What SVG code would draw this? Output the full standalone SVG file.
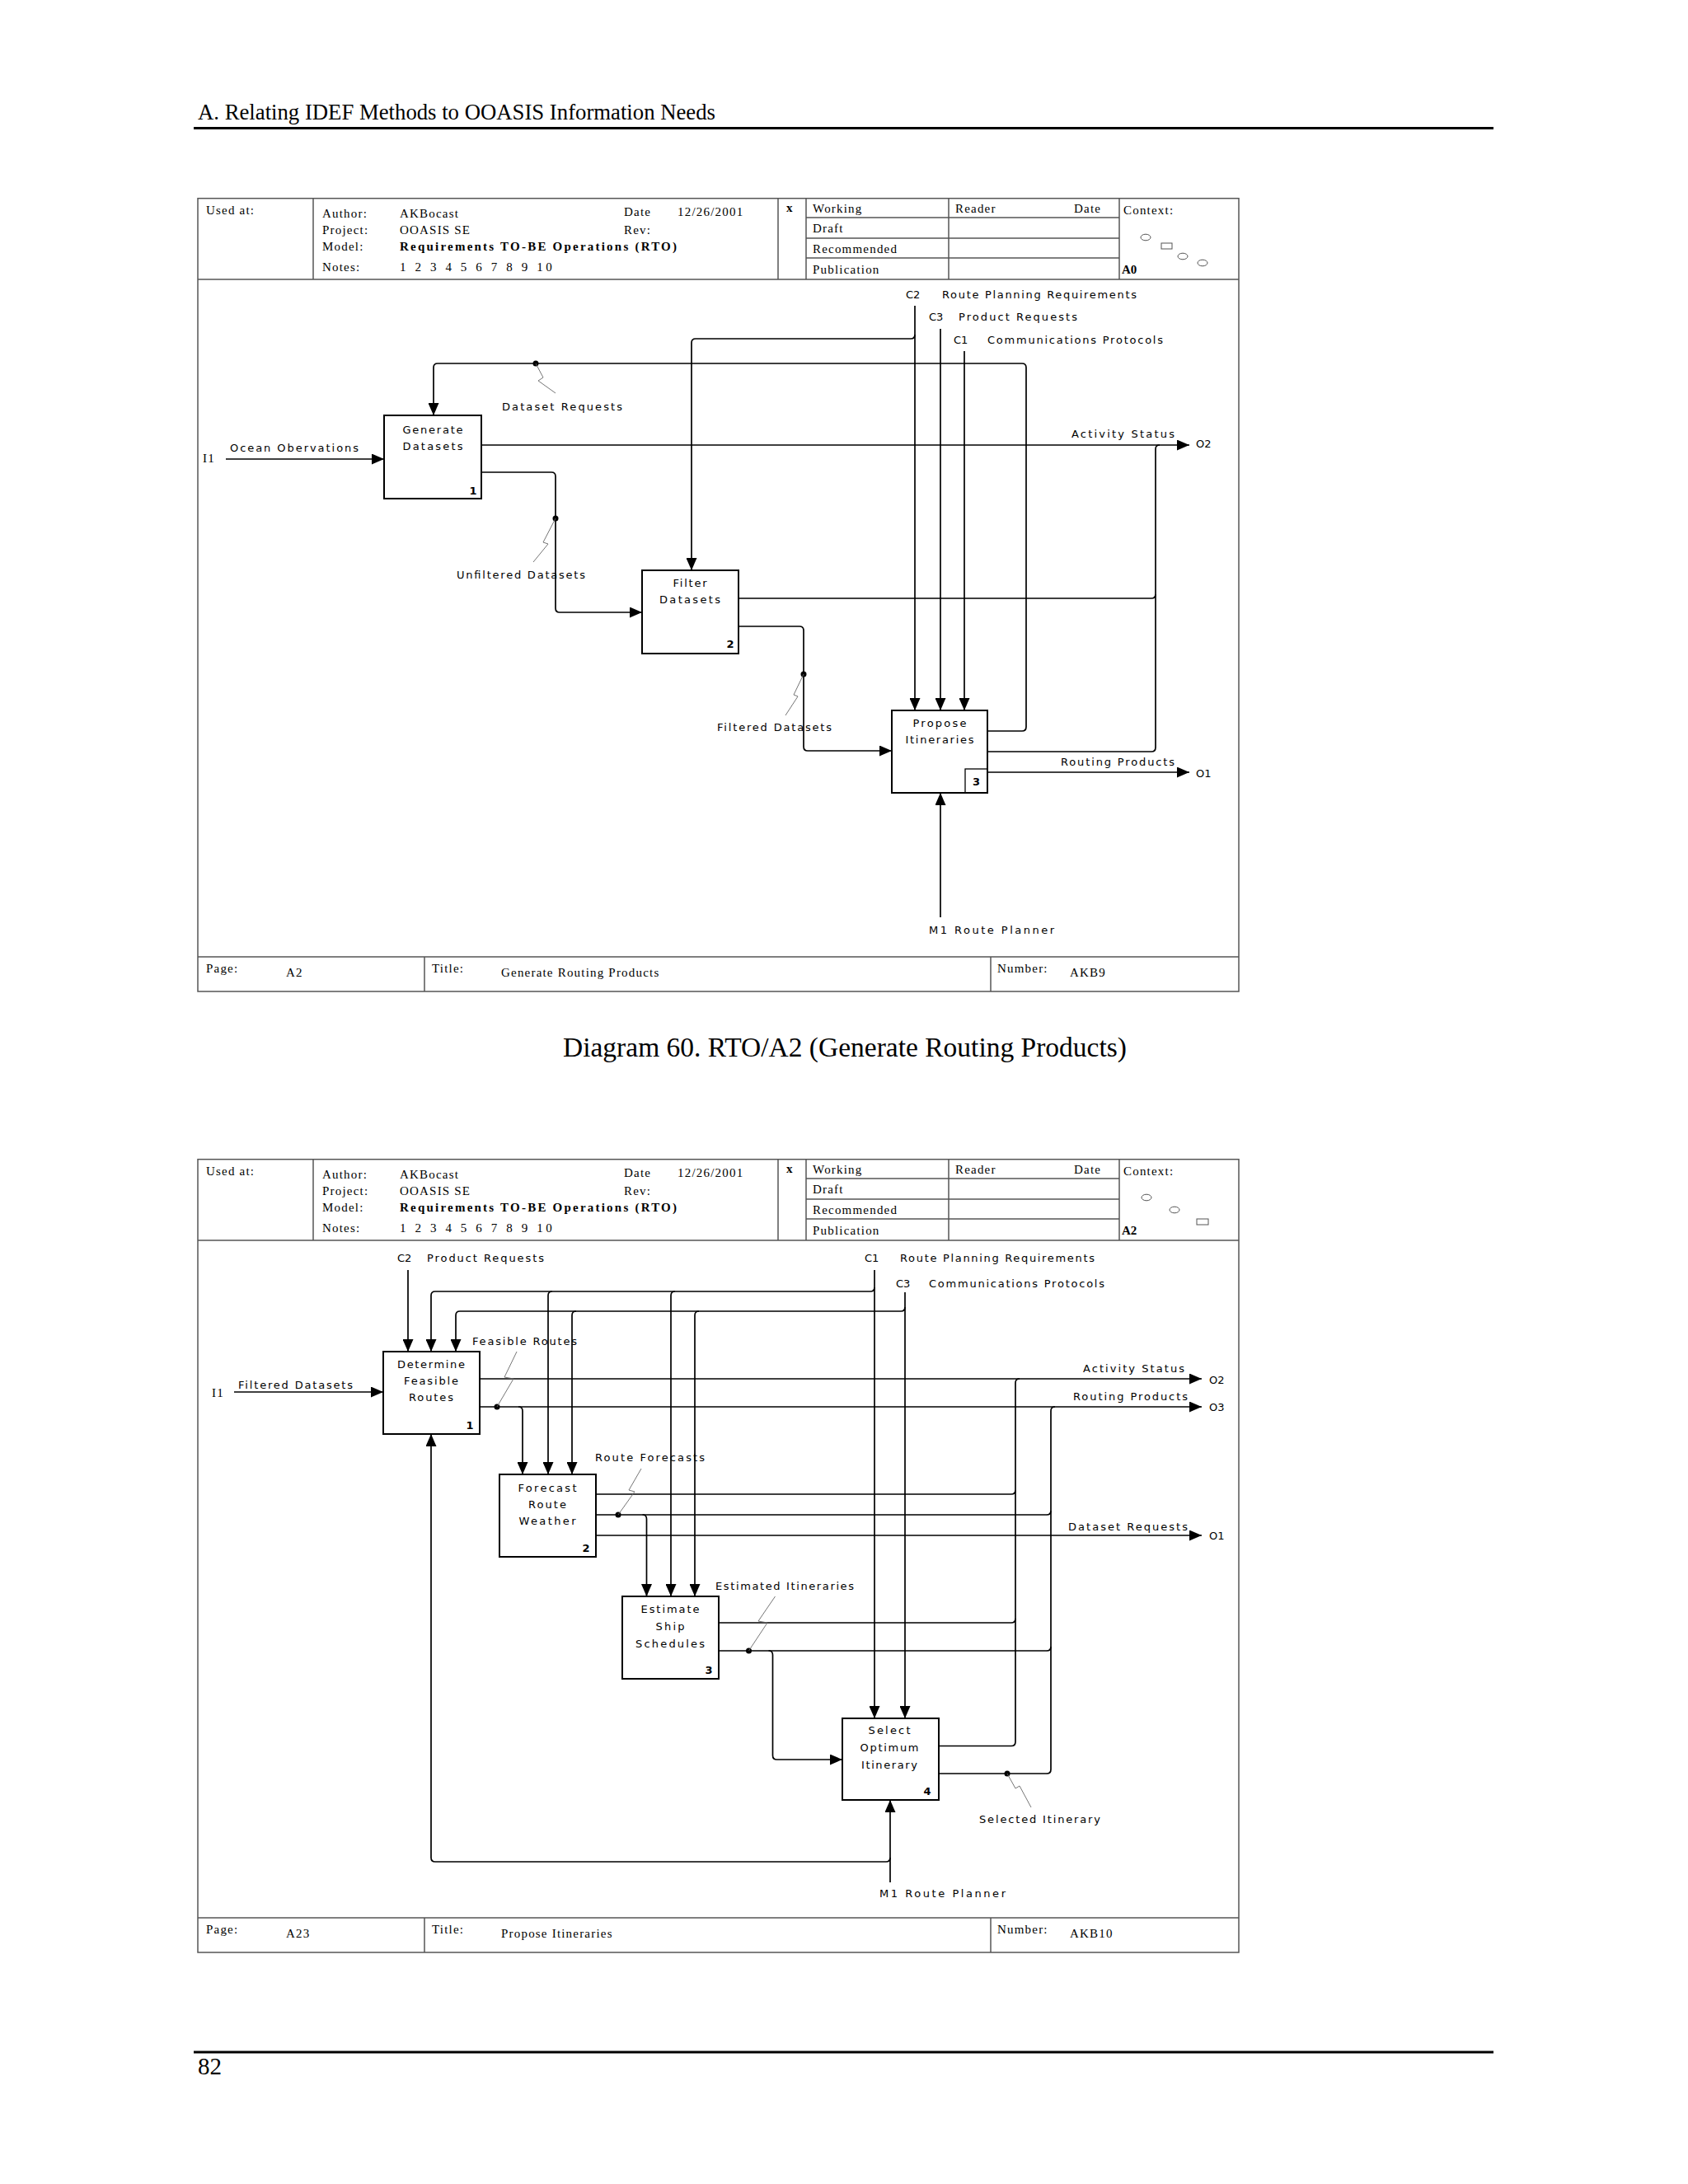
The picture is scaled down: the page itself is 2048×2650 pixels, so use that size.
<svg xmlns="http://www.w3.org/2000/svg" width="2048" height="2650" viewBox="0 0 2048 2650">
<style>
.frame{fill:none;stroke:#555;stroke-width:1.5}
.rule{stroke:#000;stroke-width:3}
.box{fill:#fff;stroke:#000;stroke-width:2}
.ln{fill:none;stroke:#000;stroke-width:1.7}
.sq{fill:none;stroke:#666;stroke-width:0.9}
.dot{fill:#000}
.ser{font-family:"Liberation Serif","Times New Roman",serif;font-size:15px;letter-spacing:1.2px;fill:#000}
.serb{font-family:"Liberation Serif","Times New Roman",serif;font-size:15px;font-weight:bold;fill:#000}
.lbl{font-family:"DejaVu Sans",Verdana,sans-serif;font-size:13px;fill:#000}
.num{font-family:"DejaVu Sans",Verdana,sans-serif;font-size:13px;font-weight:bold;fill:#000}
.page{font-family:"Liberation Serif","Times New Roman",serif;fill:#000}
</style>
<defs>
<marker id="ah" viewBox="0 0 15 13" markerWidth="15" markerHeight="13" refX="15" refY="6.5" markerUnits="userSpaceOnUse" orient="auto">
<path d="M0,0 L15,6.5 L0,13 z" fill="#000"/>
</marker>
</defs>
<rect x="0" y="0" width="2048" height="2650" fill="#fff"/>

<g id="page">
<text class="page" x="240" y="145" font-size="27" textLength="628" lengthAdjust="spacingAndGlyphs">A. Relating IDEF Methods to OOASIS Information Needs</text>
<line class="rule" x1="235" y1="155.5" x2="1812" y2="155.5"/>
<text class="page" x="1025" y="1282" font-size="33.5" text-anchor="middle">Diagram 60. RTO/A2 (Generate Routing Products)</text>
<line class="rule" x1="235" y1="2490" x2="1812" y2="2490"/>
<text class="page" x="240" y="2517" font-size="29">82</text>
</g>

<!-- ================= DIAGRAM 1 ================= -->
<g id="d1-frame">
<rect class="frame" x="240" y="240.7" width="1263" height="962.3"/>
<line class="frame" x1="240" y1="339" x2="1503" y2="339"/>
<line class="frame" x1="380" y1="240.7" x2="380" y2="339"/>
<line class="frame" x1="944" y1="240.7" x2="944" y2="339"/>
<line class="frame" x1="978" y1="240.7" x2="978" y2="339"/>
<line class="frame" x1="1151" y1="240.7" x2="1151" y2="339"/>
<line class="frame" x1="1358" y1="240.7" x2="1358" y2="339"/>
<line class="frame" x1="978" y1="264" x2="1358" y2="264"/>
<line class="frame" x1="978" y1="289" x2="1358" y2="289"/>
<line class="frame" x1="978" y1="313" x2="1358" y2="313"/>
<text class="ser" x="250" y="260">Used at:</text>
<text class="ser" x="391" y="264">Author:</text>
<text class="ser" x="485" y="264">AKBocast</text>
<text class="ser" x="757" y="262">Date</text>
<text class="ser" x="822" y="262">12/26/2001</text>
<text class="ser" x="391" y="284">Project:</text>
<text class="ser" x="485" y="284">OOASIS SE</text>
<text class="ser" x="757" y="284">Rev:</text>
<text class="ser" x="391" y="304">Model:</text>
<text class="serb" x="485" y="304" textLength="336" lengthAdjust="spacing">Requirements TO-BE Operations (RTO)</text>
<text class="ser" x="391" y="329">Notes:</text>
<text class="ser" x="485" y="329" textLength="186" lengthAdjust="spacing">1 2 3 4 5 6 7 8 9 10</text>
<text class="serb" x="954" y="257">x</text>
<text class="ser" x="986" y="258">Working</text>
<text class="ser" x="986" y="282">Draft</text>
<text class="ser" x="986" y="307">Recommended</text>
<text class="ser" x="986" y="332">Publication</text>
<text class="ser" x="1159" y="258">Reader</text>
<text class="ser" x="1303" y="258">Date</text>
<text class="ser" x="1363" y="260">Context:</text>
<ellipse cx="1390" cy="288" rx="6" ry="3.8" fill="none" stroke="#555" stroke-width="1"/>
<rect x="1409" y="295" width="13" height="7" fill="none" stroke="#555" stroke-width="1"/>
<ellipse cx="1435" cy="311" rx="6" ry="3.8" fill="none" stroke="#555" stroke-width="1"/>
<ellipse cx="1459" cy="319" rx="6" ry="3.8" fill="none" stroke="#555" stroke-width="1"/>
<text class="serb" x="1361" y="332">A0</text>
<line class="frame" x1="240" y1="1161" x2="1503" y2="1161"/>
<line class="frame" x1="515" y1="1161" x2="515" y2="1203"/>
<line class="frame" x1="1202" y1="1161" x2="1202" y2="1203"/>
<text class="ser" x="250" y="1180">Page:</text>
<text class="ser" x="347" y="1185">A2</text>
<text class="ser" x="524" y="1180">Title:</text>
<text class="ser" x="608" y="1185">Generate Routing Products</text>
<text class="ser" x="1210" y="1180">Number:</text>
<text class="ser" x="1298" y="1185">AKB9</text>
</g>

<g id="d1-connectors">
<path class="ln" d="M1110,371 V862" marker-end="url(#ah)"/>
<path class="ln" d="M1110,406 Q1110,411 1105,411 H844 Q839,411 839,416 V692" marker-end="url(#ah)"/>
<path class="ln" d="M1141,399 V862" marker-end="url(#ah)"/>
<path class="ln" d="M1170,426 V862" marker-end="url(#ah)"/>
<path class="ln" d="M1198,887 H1240 Q1245,887 1245,882 V446 Q1245,441 1240,441 H531 Q526,441 526,446 V504" marker-end="url(#ah)"/>
<path class="ln" d="M274,557 H466" marker-end="url(#ah)"/>
<path class="ln" d="M584,540 H1443" marker-end="url(#ah)"/>
<path class="ln" d="M896,726 H1397 Q1402,726 1402,721"/>
<path class="ln" d="M1198,912 H1397 Q1402,912 1402,907 V545 Q1402,540 1407,540"/>
<path class="ln" d="M584,573 H669 Q674,573 674,578 V738 Q674,743 679,743 H779" marker-end="url(#ah)"/>
<path class="ln" d="M896,760 H970 Q975,760 975,765 V906 Q975,911 980,911 H1082" marker-end="url(#ah)"/>
<path class="ln" d="M1198,937 H1443" marker-end="url(#ah)"/>
<path class="ln" d="M1141,1113 V962" marker-end="url(#ah)"/>
<circle class="dot" cx="650" cy="441" r="3.5"/>
<circle class="dot" cx="674" cy="629" r="3.5"/>
<circle class="dot" cx="975" cy="818" r="3.5"/>
<polyline class="sq" points="650,441 659,458 653,462 674,477"/>
<polyline class="sq" points="674,629 659,658 665,660 647,682"/>
<polyline class="sq" points="975,818 963,843 968,845 953,868"/>
<text class="lbl" x="1099" y="362">C2</text>
<text class="lbl" x="1143" y="362" textLength="236" lengthAdjust="spacing">Route Planning Requirements</text>
<text class="lbl" x="1127" y="389">C3</text>
<text class="lbl" x="1163" y="389" textLength="144" lengthAdjust="spacing">Product Requests</text>
<text class="lbl" x="1157" y="417">C1</text>
<text class="lbl" x="1198" y="417" textLength="213" lengthAdjust="spacing">Communications Protocols</text>
<text class="lbl" x="609" y="498" textLength="146" lengthAdjust="spacing">Dataset Requests</text>
<text class="ser" x="246" y="561">I1</text>
<text class="lbl" x="279" y="548" textLength="156" lengthAdjust="spacing">Ocean Obervations</text>
<text class="lbl" x="1300" y="531" textLength="125" lengthAdjust="spacing">Activity Status</text>
<text class="lbl" x="1451" y="543">O2</text>
<text class="lbl" x="554" y="702" textLength="156" lengthAdjust="spacing">Unfiltered Datasets</text>
<text class="lbl" x="870" y="887" textLength="139" lengthAdjust="spacing">Filtered Datasets</text>
<text class="lbl" x="1287" y="929" textLength="138" lengthAdjust="spacing">Routing Products</text>
<text class="lbl" x="1451" y="943">O1</text>
<text class="lbl" x="1127" y="1133" textLength="152" lengthAdjust="spacing">M1  Route Planner</text>
</g>

<g id="d1-box1">
<rect class="box" x="466" y="504" width="118" height="101"/>
<text class="lbl" x="525" y="526" text-anchor="middle" textLength="73" lengthAdjust="spacing">Generate</text>
<text class="lbl" x="525" y="546" text-anchor="middle" textLength="73" lengthAdjust="spacing">Datasets</text>
<text class="num" x="574" y="600" text-anchor="middle">1</text>
</g>
<g id="d1-box2">
<rect class="box" x="779" y="692" width="117" height="101"/>
<text class="lbl" x="837" y="712" text-anchor="middle" textLength="41" lengthAdjust="spacing">Filter</text>
<text class="lbl" x="837" y="732" text-anchor="middle" textLength="74" lengthAdjust="spacing">Datasets</text>
<text class="num" x="886" y="786" text-anchor="middle">2</text>
</g>
<g id="d1-box3">
<rect class="box" x="1082" y="862" width="116" height="100"/>
<text class="lbl" x="1140" y="882" text-anchor="middle" textLength="65" lengthAdjust="spacing">Propose</text>
<text class="lbl" x="1140" y="902" text-anchor="middle" textLength="83" lengthAdjust="spacing">Itineraries</text>
<rect x="1171" y="933" width="27" height="29" fill="none" stroke="#000" stroke-width="1.3"/>
<text class="num" x="1184.5" y="953" text-anchor="middle">3</text>
</g>

<!-- ================= DIAGRAM 2 ================= -->
<g id="d2-frame" transform="translate(0,1166)">
<rect class="frame" x="240" y="240.7" width="1263" height="962.3"/>
<line class="frame" x1="240" y1="339" x2="1503" y2="339"/>
<line class="frame" x1="380" y1="240.7" x2="380" y2="339"/>
<line class="frame" x1="944" y1="240.7" x2="944" y2="339"/>
<line class="frame" x1="978" y1="240.7" x2="978" y2="339"/>
<line class="frame" x1="1151" y1="240.7" x2="1151" y2="339"/>
<line class="frame" x1="1358" y1="240.7" x2="1358" y2="339"/>
<line class="frame" x1="978" y1="264" x2="1358" y2="264"/>
<line class="frame" x1="978" y1="289" x2="1358" y2="289"/>
<line class="frame" x1="978" y1="313" x2="1358" y2="313"/>
<text class="ser" x="250" y="260">Used at:</text>
<text class="ser" x="391" y="264">Author:</text>
<text class="ser" x="485" y="264">AKBocast</text>
<text class="ser" x="757" y="262">Date</text>
<text class="ser" x="822" y="262">12/26/2001</text>
<text class="ser" x="391" y="284">Project:</text>
<text class="ser" x="485" y="284">OOASIS SE</text>
<text class="ser" x="757" y="284">Rev:</text>
<text class="ser" x="391" y="304">Model:</text>
<text class="serb" x="485" y="304" textLength="336" lengthAdjust="spacing">Requirements TO-BE Operations (RTO)</text>
<text class="ser" x="391" y="329">Notes:</text>
<text class="ser" x="485" y="329" textLength="186" lengthAdjust="spacing">1 2 3 4 5 6 7 8 9 10</text>
<text class="serb" x="954" y="257">x</text>
<text class="ser" x="986" y="258">Working</text>
<text class="ser" x="986" y="282">Draft</text>
<text class="ser" x="986" y="307">Recommended</text>
<text class="ser" x="986" y="332">Publication</text>
<text class="ser" x="1159" y="258">Reader</text>
<text class="ser" x="1303" y="258">Date</text>
<text class="ser" x="1363" y="260">Context:</text>
<ellipse cx="1391" cy="287" rx="6" ry="3.8" fill="none" stroke="#555" stroke-width="1"/>
<ellipse cx="1425" cy="302" rx="6" ry="3.8" fill="none" stroke="#555" stroke-width="1"/>
<rect x="1452" y="313" width="14" height="7" fill="none" stroke="#555" stroke-width="1"/>
<text class="serb" x="1361" y="332">A2</text>
<line class="frame" x1="240" y1="1161" x2="1503" y2="1161"/>
<line class="frame" x1="515" y1="1161" x2="515" y2="1203"/>
<line class="frame" x1="1202" y1="1161" x2="1202" y2="1203"/>
<text class="ser" x="250" y="1180">Page:</text>
<text class="ser" x="347" y="1185">A23</text>
<text class="ser" x="524" y="1180">Title:</text>
<text class="ser" x="608" y="1185">Propose Itineraries</text>
<text class="ser" x="1210" y="1180">Number:</text>
<text class="ser" x="1298" y="1185">AKB10</text>
</g>

<g id="d2-connectors">
<path class="ln" d="M495,1541 V1640" marker-end="url(#ah)"/>
<path class="ln" d="M1061,1541 V2085" marker-end="url(#ah)"/>
<path class="ln" d="M1061,1562 Q1061,1567 1056,1567 H528 Q523,1567 523,1572 V1640" marker-end="url(#ah)"/>
<path class="ln" d="M670,1567 Q665,1567 665,1572 V1789" marker-end="url(#ah)"/>
<path class="ln" d="M819,1567 Q814,1567 814,1572 V1937" marker-end="url(#ah)"/>
<path class="ln" d="M1098,1568 V2085" marker-end="url(#ah)"/>
<path class="ln" d="M1098,1586 Q1098,1591 1093,1591 H558 Q553,1591 553,1596 V1640" marker-end="url(#ah)"/>
<path class="ln" d="M699,1591 Q694,1591 694,1596 V1789" marker-end="url(#ah)"/>
<path class="ln" d="M848,1591 Q843,1591 843,1596 V1937" marker-end="url(#ah)"/>
<path class="ln" d="M284,1689 H465" marker-end="url(#ah)"/>
<path class="ln" d="M582,1673 H1458" marker-end="url(#ah)"/>
<path class="ln" d="M582,1707 H1458" marker-end="url(#ah)"/>
<path class="ln" d="M629,1707 Q634,1707 634,1712 V1789" marker-end="url(#ah)"/>
<path class="ln" d="M723,1813 H1227 Q1232,1813 1232,1808"/>
<path class="ln" d="M723,1838 H1270 Q1275,1838 1275,1833"/>
<path class="ln" d="M779.5,1838 Q784.5,1838 784.5,1843 V1937" marker-end="url(#ah)"/>
<path class="ln" d="M723,1863 H1458" marker-end="url(#ah)"/>
<path class="ln" d="M872,1969 H1227 Q1232,1969 1232,1964"/>
<path class="ln" d="M872,2003 H1270 Q1275,2003 1275,1998"/>
<path class="ln" d="M932.5,2003 Q937.5,2003 937.5,2008 V2130 Q937.5,2135 942.5,2135 H1022" marker-end="url(#ah)"/>
<path class="ln" d="M1139,2118.5 H1227 Q1232,2118.5 1232,2113.5 V1678 Q1232,1673 1237,1673"/>
<path class="ln" d="M1139,2152 H1270 Q1275,2152 1275,2147 V1712 Q1275,1707 1280,1707"/>
<path class="ln" d="M1080,2284 V2184" marker-end="url(#ah)"/>
<path class="ln" d="M1080,2254 Q1080,2259 1075,2259 H528 Q523,2259 523,2254 V1740" marker-end="url(#ah)"/>
<circle class="dot" cx="603" cy="1707" r="3.5"/>
<circle class="dot" cx="750" cy="1838" r="3.5"/>
<circle class="dot" cx="908.5" cy="2003" r="3.5"/>
<circle class="dot" cx="1222" cy="2152" r="3.5"/>
<polyline class="sq" points="627,1640 612,1671 623,1673 603,1707"/>
<polyline class="sq" points="778,1782 763,1808 770,1810 750,1838"/>
<polyline class="sq" points="940.5,1937 920,1967 931,1969 908.5,2003"/>
<polyline class="sq" points="1222,2152 1232,2170 1237,2167 1251,2193"/>
<text class="lbl" x="482" y="1531">C2</text>
<text class="lbl" x="518" y="1531" textLength="142" lengthAdjust="spacing">Product Requests</text>
<text class="lbl" x="1049" y="1531">C1</text>
<text class="lbl" x="1092" y="1531" textLength="236" lengthAdjust="spacing">Route Planning Requirements</text>
<text class="lbl" x="1087" y="1562">C3</text>
<text class="lbl" x="1127" y="1562" textLength="213" lengthAdjust="spacing">Communications Protocols</text>
<text class="lbl" x="573" y="1632" textLength="127" lengthAdjust="spacing">Feasible Routes</text>
<text class="ser" x="257" y="1695">I1</text>
<text class="lbl" x="289" y="1685" textLength="139" lengthAdjust="spacing">Filtered Datasets</text>
<text class="lbl" x="1314" y="1665" textLength="123" lengthAdjust="spacing">Activity Status</text>
<text class="lbl" x="1467" y="1679">O2</text>
<text class="lbl" x="1302" y="1699" textLength="139" lengthAdjust="spacing">Routing Products</text>
<text class="lbl" x="1467" y="1712">O3</text>
<text class="lbl" x="722" y="1773" textLength="133" lengthAdjust="spacing">Route Forecasts</text>
<text class="lbl" x="1296" y="1857" textLength="145" lengthAdjust="spacing">Dataset Requests</text>
<text class="lbl" x="1467" y="1868">O1</text>
<text class="lbl" x="868" y="1929" textLength="168" lengthAdjust="spacing">Estimated Itineraries</text>
<text class="lbl" x="1188" y="2212" textLength="147" lengthAdjust="spacing">Selected Itinerary</text>
<text class="lbl" x="1067" y="2302" textLength="153" lengthAdjust="spacing">M1  Route Planner</text>
</g>

<g id="d2-box1">
<rect class="box" x="465" y="1640" width="117" height="100"/>
<text class="lbl" x="523" y="1660" text-anchor="middle" textLength="82" lengthAdjust="spacing">Determine</text>
<text class="lbl" x="523" y="1680" text-anchor="middle" textLength="66" lengthAdjust="spacing">Feasible</text>
<text class="lbl" x="523" y="1700" text-anchor="middle" textLength="54" lengthAdjust="spacing">Routes</text>
<text class="num" x="570" y="1734" text-anchor="middle">1</text>
</g>
<g id="d2-box2">
<rect class="box" x="606" y="1789" width="117" height="100"/>
<text class="lbl" x="664" y="1810" text-anchor="middle" textLength="71" lengthAdjust="spacing">Forecast</text>
<text class="lbl" x="664" y="1830" text-anchor="middle" textLength="46" lengthAdjust="spacing">Route</text>
<text class="lbl" x="664" y="1850" text-anchor="middle" textLength="69" lengthAdjust="spacing">Weather</text>
<text class="num" x="711" y="1883" text-anchor="middle">2</text>
</g>
<g id="d2-box3">
<rect class="box" x="755" y="1937" width="117" height="100"/>
<text class="lbl" x="813" y="1957" text-anchor="middle" textLength="71" lengthAdjust="spacing">Estimate</text>
<text class="lbl" x="813" y="1978" text-anchor="middle" textLength="35" lengthAdjust="spacing">Ship</text>
<text class="lbl" x="813" y="1999" text-anchor="middle" textLength="84" lengthAdjust="spacing">Schedules</text>
<text class="num" x="860" y="2031" text-anchor="middle">3</text>
</g>
<g id="d2-box4">
<rect class="box" x="1022" y="2085" width="117" height="99"/>
<text class="lbl" x="1079" y="2104" text-anchor="middle" textLength="51" lengthAdjust="spacing">Select</text>
<text class="lbl" x="1079" y="2125" text-anchor="middle" textLength="71" lengthAdjust="spacing">Optimum</text>
<text class="lbl" x="1079" y="2146" text-anchor="middle" textLength="68" lengthAdjust="spacing">Itinerary</text>
<text class="num" x="1125" y="2178" text-anchor="middle">4</text>
</g>
</svg>
